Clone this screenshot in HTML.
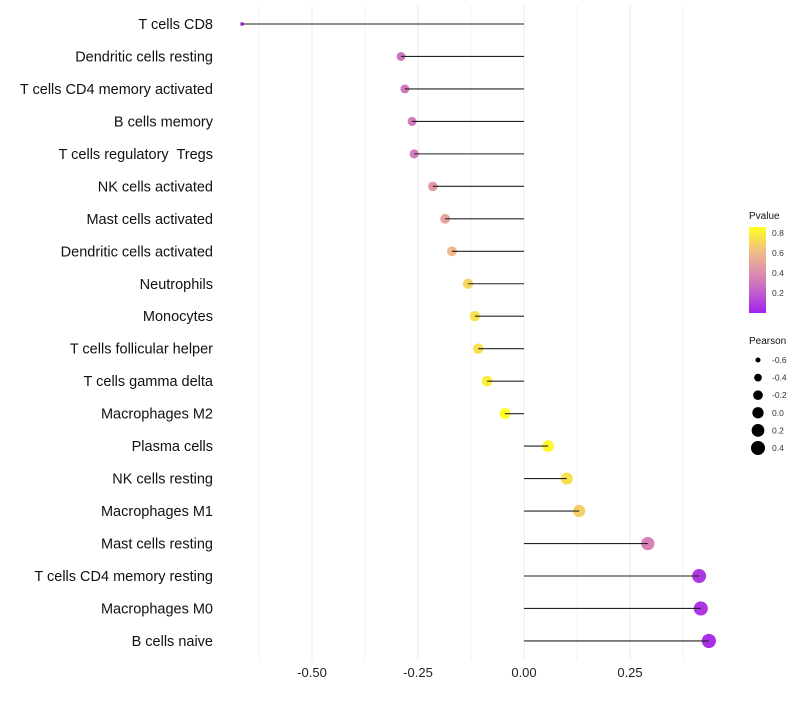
<!DOCTYPE html>
<html><head><meta charset="utf-8"><style>
body{margin:0;background:#fff;font-family:"Liberation Sans",sans-serif}
text{white-space:pre}
</style></head><body>
<svg id="chart" width="800" height="700" font-family="Liberation Sans, sans-serif"></svg>
<script>
const categories=["T cells CD8","Dendritic cells resting","T cells CD4 memory activated","B cells memory","T cells regulatory  Tregs","NK cells activated","Mast cells activated","Dendritic cells activated","Neutrophils","Monocytes","T cells follicular helper","T cells gamma delta","Macrophages M2","Plasma cells","NK cells resting","Macrophages M1","Mast cells resting","T cells CD4 memory resting","Macrophages M0","B cells naive"];
const pearson=[-0.665,-0.29,-0.281,-0.264,-0.259,-0.215,-0.186,-0.17,-0.132,-0.116,-0.108,-0.087,-0.045,0.057,0.101,0.13,0.292,0.413,0.417,0.436];
const pvalues=[0.05,0.3,0.3,0.32,0.33,0.45,0.5,0.6,0.7,0.75,0.75,0.8,0.86,0.83,0.75,0.68,0.35,0.08,0.07,0.05];
const xTicks=[-0.5,-0.25,0,0.25];
const xTickLabels=["-0.50","-0.25","0.00","0.25"];
const pTicks=[0.2,0.4,0.6,0.8];
const sizeTicks=[-0.6,-0.4,-0.2,0.0,0.2,0.4];
const sizeTickLabels=["-0.6","-0.4","-0.2","0.0","0.2","0.4"];

const NS="http://www.w3.org/2000/svg";
const svg=document.getElementById("chart");
function el(t,a,p){const e=document.createElementNS(NS,t);for(const k in a)e.setAttribute(k,a[k]);(p||svg).appendChild(e);return e;}
const x=v=>524+v*424;
const y=i=>24+i*32.47;
const r=v=>Math.sqrt(Math.max(1,31.9+42.75*v));
const stops=[[0,[160,32,240]],[0.2,[194,92,205]],[0.4,[220,143,174]],[0.6,[239,185,138]],[0.86,[255,255,32]]];
function col(p){p=Math.max(0,Math.min(0.86,p));for(let i=1;i<stops.length;i++){if(p<=stops[i][0]){const a=stops[i-1],b=stops[i],t=(p-a[0])/(b[0]-a[0]);const c=a[1].map((v,k)=>Math.round(v+(b[1][k]-v)*t));return `rgb(${c})`;}}}
for(let v=-0.625;v<=0.4;v+=0.125){const g=el("line",{x1:x(v),x2:x(v),y1:5,y2:660,stroke:"#ebebeb","stroke-width":Math.abs((v*4)%1)<1e-6?1:0.6});}
xTicks.forEach((v,i)=>{const t=el("text",{x:x(v),y:677,"text-anchor":"middle","font-size":13,fill:"#222"});t.textContent=xTickLabels[i];});
categories.forEach((c,i)=>{
 const t=el("text",{x:213,y:y(i)+5,"text-anchor":"end","font-size":14.5,fill:"#111"});t.textContent=c;
 
 const d=el("circle",{cx:x(pearson[i]),cy:y(i),r:r(pearson[i]),fill:col(pvalues[i])});
 
 const l=el("line",{x1:x(0),x2:x(pearson[i]),y1:y(i),y2:y(i),stroke:"#222","stroke-width":1.1});
 
});
let t=el("text",{x:749,y:219,"font-size":10,fill:"#111"});t.textContent="Pvalue";
const defs=el("defs",{});const lg=el("linearGradient",{id:"pg",x1:0,y1:1,x2:0,y2:0},defs);
stops.forEach(s=>el("stop",{offset:s[0]/0.86,"stop-color":`rgb(${s[1]})`},lg));
const bar=el("rect",{x:749,y:227,width:17,height:86,fill:"url(#pg)"});
pTicks.forEach(p=>{const yy=313-p*100;const tt=el("text",{x:772,y:yy+3,"font-size":8.5,fill:"#333"});tt.textContent=p.toFixed(1);});
t=el("text",{x:749,y:344,"font-size":10,fill:"#111"});t.textContent="Pearson";
sizeTicks.forEach((v,i)=>{const yy=360+i*17.6;const c=el("circle",{cx:758,cy:yy,r:r(v),fill:"#000"});
 const tt=el("text",{x:772,y:yy+3,"font-size":8.5,fill:"#333"});tt.textContent=sizeTickLabels[i];});
</script>
</body></html>
